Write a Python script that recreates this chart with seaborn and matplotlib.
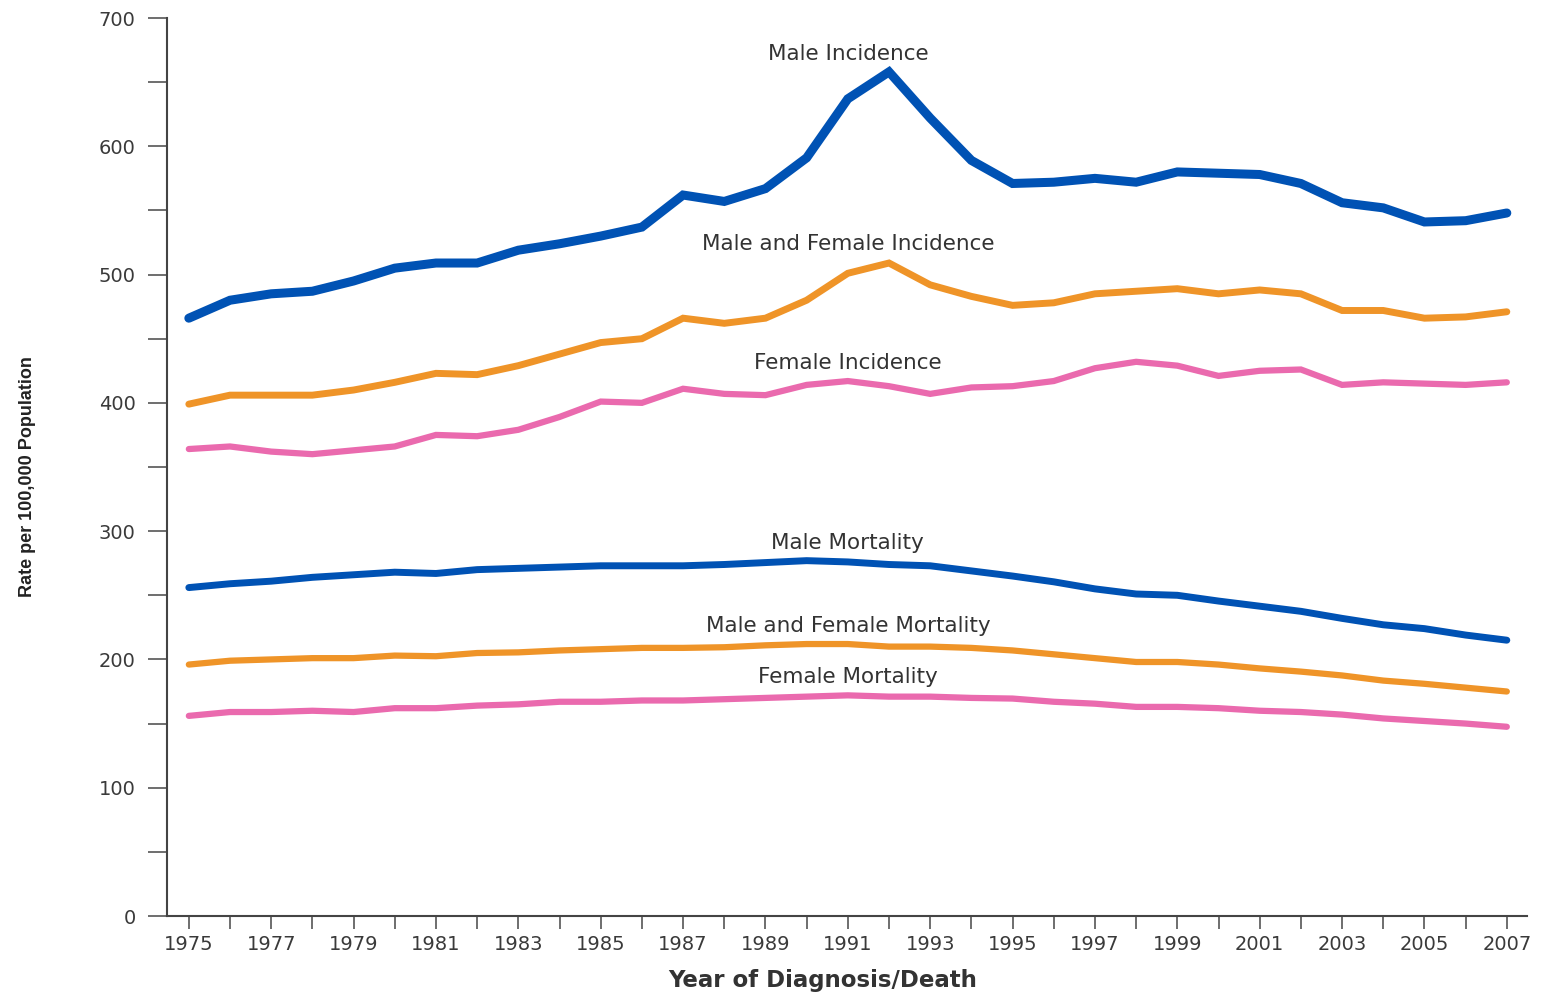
import pandas as pd
import matplotlib
matplotlib.use('Agg')
import matplotlib.pyplot as plt
import seaborn as sns
import numpy as np

years = list(range(1975, 2008))

male_incidence = [466, 480, 485, 487, 495, 505, 509, 509, 519, 524, 530, 537, 562, 557, 567,
                  591, 637, 658, 622, 589, 571, 572, 575, 572, 580, 579, 578, 571, 556, 552,
                  541, 542, 548]
both_incidence = [399, 406, 406, 406, 410, 416, 423, 422, 429, 438, 447, 450, 466, 462, 466,
                  480, 501, 509, 492, 483, 476, 478, 485, 487, 489, 485, 488, 485, 472, 472,
                  466, 467, 471]
female_incidence = [364, 366, 362, 360, 363, 366, 375, 374, 379, 389, 401, 400, 411, 407, 406,
                    414, 417, 413, 407, 412, 413, 417, 427, 432, 429, 421, 425, 426, 414, 416,
                    415, 414, 416]
male_mortality = [256, 259, 261, 264, 266, 268, 267, 270, 271, 272, 273, 273, 273, 274, 275.5,
                  277, 276, 274, 273, 269, 265, 260.5, 255, 251, 250, 245.5, 241.5, 237.5, 232, 227,
                  224, 219, 215]
both_mortality = [196, 199, 200, 201, 201, 203, 202.5, 205, 205.5, 207, 208, 209, 209, 209.5, 211,
                  212, 212, 210, 210, 209, 207, 204, 201, 198, 198, 196, 193, 190.5, 187.5, 183.5,
                  181, 178, 175]
female_mortality = [156, 159, 159, 160, 159, 162, 162, 164, 165, 167, 167, 168, 168, 169, 170,
                    171, 172, 171, 171, 170, 169.5, 167, 165.5, 163, 163, 162, 160, 159, 157, 154,
                    152, 150, 147.5]

series_names = ['Male Incidence', 'Male and Female Incidence', 'Female Incidence',
                'Male Mortality', 'Male and Female Mortality', 'Female Mortality']
series_values = [male_incidence, both_incidence, female_incidence,
                 male_mortality, both_mortality, female_mortality]
label_y = [672, 524, 431, 291, 226, 186]

blue = '#0052b4'
orange = '#ef9428'
pink = '#ea6aae'
colors = [blue, orange, pink, blue, orange, pink]
widths = [6.5, 5, 4.5, 5, 4.5, 4.5]

sns.set_style('ticks')
plt.rcParams['font.family'] = ['DejaVu Sans']

fig = plt.figure(figsize=(15.54, 9.92), dpi=100)
ax = fig.add_axes([167 / 1554, 1 - 916 / 992, (1527 - 167) / 1554, (916 - 18) / 992])

for name, vals, c, lw, ly in zip(series_names, series_values, colors, widths, label_y):
    df = pd.DataFrame({'Year': years, 'Rate': vals})
    sns.lineplot(data=df, x='Year', y='Rate', color=c, linewidth=lw, ax=ax,
                 solid_joinstyle='miter')
    ax.text(1991.0, ly, name, ha='center', va='center', fontsize=15.5, color='#333333')

ax.set_xlim(1974.47, 2007.49)
ax.set_ylim(0, 700)
ax.set_xticks(years)
ax.set_xticklabels([str(y) if (y - 1975) % 2 == 0 else '' for y in years])
ax.set_yticks(np.arange(0, 701, 50))
ax.set_yticklabels([str(v) if v % 100 == 0 else '' for v in range(0, 701, 50)])
ax.tick_params(axis='x', length=9.5, width=1.2, pad=4, labelsize=14, labelcolor='#3a3a3a')
ax.tick_params(axis='y', length=13.5, width=1.2, pad=9, labelsize=14, labelcolor='#3a3a3a')
ax.tick_params(axis='both', color='#555555')
for s in ['top', 'right']:
    ax.spines[s].set_visible(False)
for s in ['left', 'bottom']:
    ax.spines[s].set_color('#444444')
    ax.spines[s].set_linewidth(1.5)

ax.set_xlabel('')
ax.set_ylabel('')
fig.text(823 / 1554, 1 - 980 / 992, 'Year of Diagnosis/Death', ha='center', va='center',
         fontsize=16.5, fontweight='bold', color='#333333')
fig.text(28 / 1554, 1 - 477 / 992, 'Rate per 100,000 Population', ha='center', va='center',
         rotation=90, fontsize=13, fontweight='bold', color='#222222',
         family=['Liberation Sans'])

fig.savefig('out.png', dpi=100)
